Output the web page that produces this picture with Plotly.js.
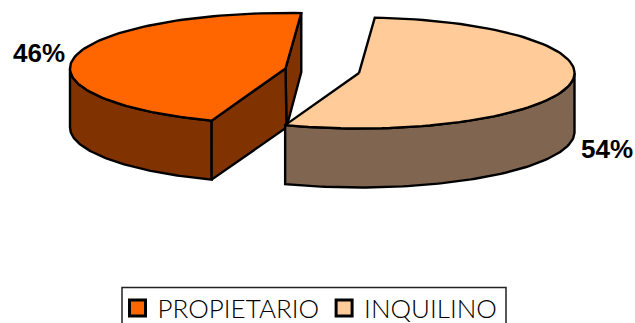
<!DOCTYPE html>
<html>
<head>
<meta charset="utf-8">
<script src="https://cdn.plot.ly/plotly-3.0.1.min.js"></script>
<style>html,body{margin:0;padding:0;background:#fff;overflow:hidden}#c{width:635px;height:323px}</style>
</head>
<body>
<div id="c"></div>
<script>
var categories = ['PROPIETARIO', 'INQUILINO'];
var shares = [45.6, 54.4];
var topColors = ['#FF6600', '#FFCC99'];
var wallColors = ['#803300', '#806650'];

// Pie projection: ellipse radii, extrusion depth, exploded slice centres
var RX = 215.5, RY = 55.5, DEPTH = 59, START = 4.2;
var centres = [[285.5, 68.5], [359, 73]];
var labelPos = [[39, 53], [607, 149]];

function pt(c, deg, dy) {
  var r = deg * Math.PI / 180;
  return [c[0] + RX * Math.sin(r), c[1] - RY * Math.cos(r) + (dy || 0)];
}
function arc(c, a0, a1, dy) {
  var out = [], n = 90;
  for (var i = 0; i <= n; i++) out.push(pt(c, a0 + (a1 - a0) * i / n, dy));
  return out;
}
function poly(points, fill) {
  var xs = points.map(function (p) { return p[0]; });
  var ys = points.map(function (p) { return p[1]; });
  xs.push(xs[0]); ys.push(ys[0]);
  return { type: 'scatter', mode: 'lines', x: xs, y: ys, fill: 'toself', fillcolor: fill,
    line: { color: '#000', width: 2.4, shape: 'linear' }, showlegend: false, hoverinfo: 'skip' };
}

var sweep0 = shares[0] / (shares[0] + shares[1]) * 360;
var traces = [];

// slice 0 (left)
var c0 = centres[0];
var cornerA = pt(c0, START), cornerB = pt(c0, START - sweep0);
traces.push(poly([c0, cornerA, [cornerA[0], cornerA[1] + DEPTH], [c0[0] + 1, c0[1] + DEPTH]], wallColors[0]));
traces.push(poly(arc(c0, 270, START - sweep0 + 360, 0).concat(arc(c0, START - sweep0 + 360, 270, DEPTH)), wallColors[0]));
traces.push(poly([c0, cornerB, [cornerB[0], cornerB[1] + DEPTH], [c0[0] + 1, c0[1] + DEPTH]], wallColors[0]));
traces.push(poly([c0].concat(arc(c0, START, START - sweep0)), topColors[0]));

// slice 1 (right)
var c1 = centres[1];
var end1 = START + 360 - sweep0;
traces.push(poly(arc(c1, 90, end1, 0).concat(arc(c1, end1, 90, DEPTH)), wallColors[1]));
traces.push(poly([c1].concat(arc(c1, START, end1)), topColors[1]));

// legend entries
categories.forEach(function (name, i) {
  traces.push({ type: 'scatter', mode: 'markers', x: [null], y: [null], name: name,
    marker: { symbol: 'square', size: 16, color: topColors[i], line: { color: '#000', width: 3 } } });
});

var annotations = shares.map(function (v, i) {
  return { xref: 'x', yref: 'y', x: labelPos[i][0], y: labelPos[i][1], text: Math.round(v) + '%', showarrow: false,
    font: { family: 'Liberation Sans', size: 26, color: '#000', weight: 700 } };
});

Plotly.newPlot('c', traces, {
  width: 635, height: 323, margin: { l: 0, r: 0, t: 0, b: 0, autoexpand: false },
  paper_bgcolor: '#fff', plot_bgcolor: '#fff',
  xaxis: { range: [0, 635], visible: false, fixedrange: true },
  yaxis: { range: [323, 0], visible: false, fixedrange: true },
  annotations: annotations,
  shapes: [{ type: 'rect', xref: 'x', yref: 'y', x0: 122, x1: 506, y0: 287.5, y1: 345, layer: 'below',
    line: { color: '#222', width: 1.5 }, fillcolor: '#fff' }],
  showlegend: true,
  legend: { orientation: 'h', xref: 'paper', yref: 'paper', x: 117.5 / 635, y: 1 - 284.5 / 323,
    xanchor: 'left', yanchor: 'top', bgcolor: 'rgba(0,0,0,0)', borderwidth: 0,
    font: { family: 'Lato', size: 26, color: '#000', weight: 300 }, itemwidth: 30 }
}, { staticPlot: true, displayModeBar: false });
</script>
</body>
</html>
